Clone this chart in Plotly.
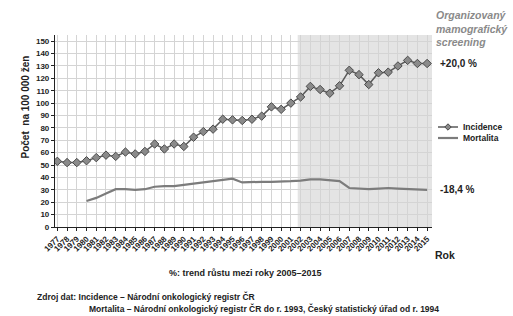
import plotly.graph_objects as go

years = [1977, 1978, 1979, 1980, 1981, 1982, 1983, 1984, 1985, 1986,
         1987, 1988, 1989, 1990, 1991, 1992, 1993, 1994, 1995, 1996,
         1997, 1998, 1999, 2000, 2001, 2002, 2003, 2004, 2005, 2006,
         2007, 2008, 2009, 2010, 2011, 2012, 2013, 2014, 2015]

incidence = [53, 52, 52, 53.5, 56, 58, 57, 60.5, 59, 61,
             67, 63, 67, 65, 72.5, 77, 79, 87, 86.5, 86,
             87, 89.5, 97, 95, 100, 105, 113.5, 111, 108, 114,
             126.5, 123, 115, 124.5, 125, 130, 134.5, 132, 132]

mortalita = [None, None, None, 21, 23.5, 27, 30.5, 30.5, 30, 30.5,
             32.5, 33, 33, 34, 35, 36, 37.5, 38, 39, 36,
             36.5, 36.5, 36.5, 36.5, 37, 37.5, 38.5, 38.5, 37.5, 37,
             31.5, 31, 30.5, 31, 31.5, 31, 30.5, 30, 30]

y_ticks = list(range(0, 151, 10))
screening_start = 24.7

W, H = 513, 316
L, R, T, B = 55, 81, 35, 89
pw, ph = W - L - R, H - T - B


def px(X):
    return (X - L) / pw


def py(Y):
    return (H - B - Y) / ph


idx = list(range(len(years)))

fig = go.Figure()
fig.add_trace(go.Scatter(
    x=idx, y=mortalita, mode="lines", name="Mortalita",
    line=dict(color="#7c7c7c", width=2.2), showlegend=False))
fig.add_trace(go.Scatter(
    x=idx, y=incidence, mode="lines+markers", name="Incidence",
    line=dict(color="#5a5a5a", width=1.5),
    marker=dict(symbol="diamond", size=6.5, color="#8a8a8a",
                line=dict(color="#4a4a4a", width=1)),
    showlegend=False))

fig.add_shape(type="rect", xref="x", yref="paper", x0=screening_start, x1=38.5,
              y0=0, y1=1, fillcolor="#e4e4e4", line=dict(width=0), layer="below")

bold = "Liberation Sans, Arial, sans-serif"
ann = []
ann.append(dict(text="<b>Počet  na 100 000 žen</b>", textangle=-90, xref="paper", yref="paper",
                x=px(17), y=py(107), showarrow=False, font=dict(size=10, color="#222", family=bold)))
ann.append(dict(text="<b><i>Organizovaný<br>mamografický<br>screening</i></b>", xref="paper", yref="paper",
                x=px(434), y=py(7), xanchor="left", yanchor="top", align="left", showarrow=False,
                font=dict(size=10.5, color="#8a8a8a", family=bold)))
ann.append(dict(text="<b>+20,0 %</b>", xref="paper", yref="paper", x=px(438), y=py(64),
                xanchor="left", yanchor="middle", showarrow=False, font=dict(size=10, color="#222", family=bold)))
ann.append(dict(text="<b>-18,4 %</b>", xref="paper", yref="paper", x=px(438), y=py(189),
                xanchor="left", yanchor="middle", showarrow=False, font=dict(size=10, color="#222", family=bold)))
ann.append(dict(text="<b>Incidence</b>", xref="paper", yref="paper", x=px(461), y=py(127),
                xanchor="left", yanchor="middle", showarrow=False, font=dict(size=8.5, color="#222", family=bold)))
ann.append(dict(text="<b>Mortalita</b>", xref="paper", yref="paper", x=px(461), y=py(138),
                xanchor="left", yanchor="middle", showarrow=False, font=dict(size=8.5, color="#222", family=bold)))
ann.append(dict(text="<b>Rok</b>", xref="paper", yref="paper", x=px(433), y=py(255),
                xanchor="left", yanchor="middle", showarrow=False, font=dict(size=10.5, color="#222", family=bold)))
ann.append(dict(text="<b>%: trend růstu mezi roky 2005–2015</b>", xref="paper", yref="paper", x=px(245), y=py(273),
                xanchor="center", yanchor="middle", showarrow=False, font=dict(size=9, color="#222", family=bold)))
ann.append(dict(text="<b>Zdroj dat: Incidence – Národní onkologický registr ČR</b>", xref="paper", yref="paper",
                x=px(35), y=py(296), xanchor="left", yanchor="middle", showarrow=False,
                font=dict(size=8.5, color="#222", family=bold)))
ann.append(dict(text="<b>Mortalita – Národní onkologický registr ČR do r. 1993, Český statistický úřad od r. 1994</b>",
                xref="paper", yref="paper", x=px(87), y=py(308), xanchor="left", yanchor="middle",
                showarrow=False, font=dict(size=8.5, color="#222", family=bold)))

# manual legend symbols
fig.add_shape(type="line", xref="paper", yref="paper", x0=px(438), x1=px(458), y0=py(127), y1=py(127),
              line=dict(color="#5a5a5a", width=1.5))
d = 3.2
fig.add_shape(type="path", xref="paper", yref="paper",
              path=f"M {px(448)},{py(127 - d)} L {px(448 + d)},{py(127)} L {px(448)},{py(127 + d)} L {px(448 - d)},{py(127)} Z",
              fillcolor="#8a8a8a", line=dict(color="#4a4a4a", width=1))
fig.add_shape(type="line", xref="paper", yref="paper", x0=px(438), x1=px(458), y0=py(138), y1=py(138),
              line=dict(color="#7c7c7c", width=2.2))

fig.update_layout(
    width=W, height=H, margin=dict(l=L, r=R, t=T, b=B, autoexpand=False),
    paper_bgcolor="white", plot_bgcolor="white",
    annotations=ann, showlegend=False,
    font=dict(family=bold, color="#222"),
)
fig.update_xaxes(range=[-0.24, 38.5], tickmode="array", tickvals=idx, ticktext=[f"<b>{y}</b>" for y in years],
                 tickangle=-45, tickfont=dict(size=8, color="#222"), showgrid=True, gridcolor="#d4d4d4",
                 gridwidth=1, showline=True, linecolor="#222", linewidth=1.2, ticks="outside", ticklen=3,
                 tickcolor="#222", zeroline=False, automargin=False)
fig.update_yaxes(range=[0, 155], tickmode="array", tickvals=y_ticks, ticktext=[f"<b>{v}</b>" for v in y_ticks],
                 tickfont=dict(size=8, color="#222"), showgrid=True, gridcolor="#d4d4d4", gridwidth=1,
                 showline=True, linecolor="#222", linewidth=1.2, ticks="outside", ticklen=3, tickcolor="#222",
                 zeroline=False, automargin=False)

fig.write_html("out.html", config={"displayModeBar": False},
               post_script="document.body.style.margin='0';document.body.style.overflow='hidden';")
